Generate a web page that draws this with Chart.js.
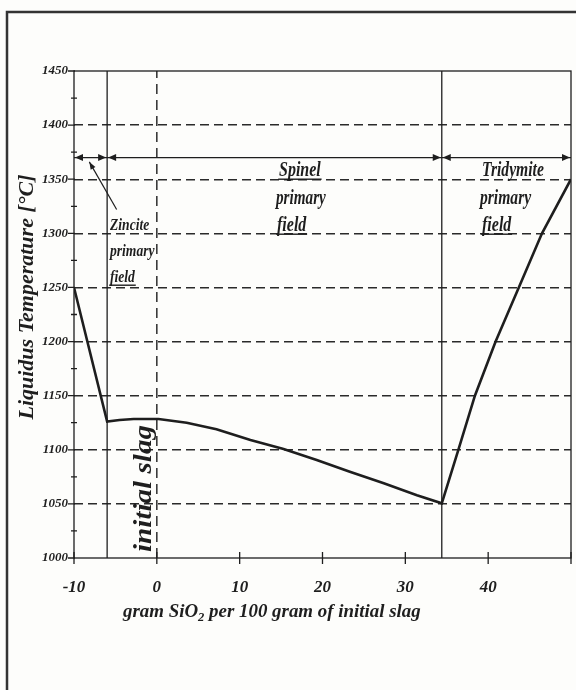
<!DOCTYPE html>
<html>
<head>
<meta charset="utf-8">
<script src="https://cdn.jsdelivr.net/npm/chart.js@4.4.1/dist/chart.umd.min.js"></script>
<style>
  html, body { margin: 0; padding: 0; background: #fdfdfb; }
  canvas { display: block; }
</style>
</head>
<body>
<canvas id="liquidus" width="576" height="690"></canvas>
<script>
// liquidus curve
const silicaAdded = [-10, -6, -4.5, -2.8, 0.2, 3.6, 7.2, 11.3, 15.3, 19.3, 23.3, 27.4, 31.4, 34.4, 36.4, 38.4, 40.9, 43.7, 46.5, 50];
const liquidusTemp = [1250, 1126, 1127.5, 1128.4, 1128.4, 1125, 1119, 1109, 1100.7, 1090.6, 1079.7, 1069, 1058, 1050.5, 1100, 1150, 1200, 1250, 1300, 1350];

// primary field boundaries and the initial slag composition
const fieldBoundaries = [-6, 34.4];
const initialSlag = 0;
const fieldEdges = [-10, -6, 34.4, 50];
const fieldArrowTemp = 1370;

// axes
const xTicks = [-10, 0, 10, 20, 30, 40, 50];
const xTickLabels = ['-10', '0', '10', '20', '30', '40', ''];
const yTicks = [1000, 1050, 1100, 1150, 1200, 1250, 1300, 1350, 1400, 1450];
const yMinorTicks = [1025, 1075, 1125, 1175, 1225, 1275, 1325, 1375, 1425];
const tMin = 1000, tMax = 1450;

const ink = '#1e1e1e';
const serif = '"Liberation Serif", "Times New Roman", serif';

function drawText(ctx, str, x, y, size, sx, opts = {}) {
  ctx.save();
  ctx.translate(x, y);
  if (opts.rotate) ctx.rotate(opts.rotate);
  ctx.scale(sx, 1);
  ctx.font = `italic bold ${size}px ${serif}`;
  ctx.textAlign = opts.align || 'left';
  ctx.textBaseline = 'alphabetic';
  ctx.fillStyle = ink;
  ctx.fillText(str, 0, 0);
  if (opts.underline) {
    const w = ctx.measureText(str).width;
    const x0 = ctx.textAlign === 'center' ? -w / 2 : 0;
    ctx.fillRect(x0 - 1, 2.5, w + 2, 1.4);
  }
  ctx.restore();
}

function arrowHead(ctx, x, y, dir) {
  ctx.beginPath();
  ctx.moveTo(x, y);
  ctx.lineTo(x - dir * 8, y - 3.5);
  ctx.lineTo(x - dir * 8, y + 3.5);
  ctx.closePath();
  ctx.fill();
}

const decorations = {
  id: 'decorations',
  afterDraw(chart) {
    const ctx = chart.ctx;
    const xs = chart.scales.x, ys = chart.scales.y;
    const a = chart.chartArea;
    ctx.save();
    ctx.strokeStyle = ink;
    ctx.fillStyle = ink;

    // plot box
    ctx.lineWidth = 1.3;
    ctx.strokeRect(a.left, a.top, a.right - a.left, a.bottom - a.top);

    // tick marks
    ctx.beginPath();
    yTicks.forEach(v => {
      const y = ys.getPixelForValue(v);
      ctx.moveTo(a.left - 6, y); ctx.lineTo(a.left + 1, y);
    });
    yMinorTicks.forEach(v => {
      const y = ys.getPixelForValue(v);
      ctx.moveTo(a.left - 3, y); ctx.lineTo(a.left + 3, y);
    });
    xTicks.forEach(v => {
      const x = xs.getPixelForValue(v);
      ctx.moveTo(x, a.bottom - 6); ctx.lineTo(x, a.bottom + 6);
    });
    ctx.stroke();

    // field arrows
    const ay = ys.getPixelForValue(fieldArrowTemp);
    ctx.lineWidth = 1.2;
    ctx.beginPath();
    ctx.moveTo(xs.getPixelForValue(fieldEdges[0]), ay);
    ctx.lineTo(xs.getPixelForValue(fieldEdges[fieldEdges.length - 1]), ay);
    ctx.stroke();
    for (let i = 0; i < fieldEdges.length - 1; i++) {
      arrowHead(ctx, xs.getPixelForValue(fieldEdges[i]) + 1, ay, -1);
      arrowHead(ctx, xs.getPixelForValue(fieldEdges[i + 1]) - 1, ay, 1);
    }

    // pointer from the Zincite label
    const p0 = { x: xs.getPixelForValue(-4.85), y: ys.getPixelForValue(1322) };
    const p1 = { x: xs.getPixelForValue(-8.15), y: ys.getPixelForValue(1366) };
    ctx.beginPath();
    ctx.moveTo(p0.x, p0.y); ctx.lineTo(p1.x, p1.y);
    ctx.stroke();
    const ang = Math.atan2(p1.y - p0.y, p1.x - p0.x);
    ctx.beginPath();
    ctx.moveTo(p1.x, p1.y);
    ctx.lineTo(p1.x - 8 * Math.cos(ang - 0.35), p1.y - 8 * Math.sin(ang - 0.35));
    ctx.lineTo(p1.x - 8 * Math.cos(ang + 0.35), p1.y - 8 * Math.sin(ang + 0.35));
    ctx.closePath();
    ctx.fill();

    // field labels
    drawText(ctx, 'Spinel', 279, 176, 20, 0.8, { underline: true });
    drawText(ctx, 'primary', 276, 204, 20, 0.76);
    drawText(ctx, 'field', 277, 231, 20, 0.8, { underline: true });
    drawText(ctx, 'Tridymite', 482, 176, 20, 0.78);
    drawText(ctx, 'primary', 480, 204, 20, 0.78);
    drawText(ctx, 'field', 482, 231, 20, 0.8, { underline: true });
    drawText(ctx, 'Zincite', 110, 230, 16, 0.85);
    drawText(ctx, 'primary', 110, 256, 16, 0.85);
    drawText(ctx, 'field', 110, 282, 16, 0.85, { underline: true });

    // initial slag marker text
    drawText(ctx, 'initial slag', 151, 552, 26, 1.12, { rotate: -Math.PI / 2 });

    // axis titles
    drawText(ctx, 'Liquidus Temperature [°C]', 33, 297, 22, 1, { rotate: -Math.PI / 2, align: 'center' });
    const tx = 123, tyb = 617;
    ctx.font = `italic bold 18px ${serif}`;
    const sx = 1.05;
    const w1 = ctx.measureText('gram SiO').width * sx;
    drawText(ctx, 'gram SiO', tx, tyb, 18, sx);
    ctx.font = `italic bold 12px ${serif}`;
    const w2 = ctx.measureText('2').width * sx;
    drawText(ctx, '2', tx + w1, tyb + 4, 12, sx);
    drawText(ctx, ' per 100 gram of initial slag', tx + w1 + w2, tyb, 18, sx);

    // outer figure frame
    ctx.strokeStyle = '#333';
    ctx.lineWidth = 2.5;
    ctx.beginPath();
    ctx.moveTo(7, 690); ctx.lineTo(7, 12); ctx.lineTo(576, 12);
    ctx.stroke();
    ctx.restore();
  }
};

const vLine = (x, dash, width) => ({
  data: [{ x: x, y: tMin }, { x: x, y: tMax }],
  borderColor: ink,
  borderWidth: width,
  borderDash: dash,
  pointRadius: 0
});

new Chart(document.getElementById('liquidus'), {
  type: 'line',
  data: {
    datasets: [
      {
        data: silicaAdded.map((x, i) => ({ x: x, y: liquidusTemp[i] })),
        borderColor: ink,
        borderWidth: 2.6,
        pointRadius: 0,
        tension: 0
      },
      ...fieldBoundaries.map(b => vLine(b, [], 1.3)),
      vLine(initialSlag, [10, 6], 1.4)
    ]
  },
  options: {
    responsive: false,
    animation: false,
    layout: { padding: { left: 10, right: 5, top: 71, bottom: 0 } },
    plugins: { legend: { display: false }, tooltip: { enabled: false } },
    scales: {
      x: {
        type: 'linear',
        min: -10,
        max: 50,
        afterBuildTicks: s => { s.ticks = xTicks.map(v => ({ value: v })); },
        afterFit: s => { s.height = 132; s.paddingLeft = 0; s.paddingRight = 0; },
        ticks: {
          callback: v => xTickLabels[xTicks.indexOf(v)],
          color: ink,
          padding: 11,
          maxRotation: 0,
          autoSkip: false,
          font: { family: serif, size: 17, style: 'italic', weight: 'bold' }
        },
        grid: { display: false },
        border: { display: false }
      },
      y: {
        type: 'linear',
        min: tMin,
        max: tMax,
        afterBuildTicks: s => { s.ticks = yTicks.map(v => ({ value: v })); },
        afterFit: s => { s.width = 64; s.paddingTop = 0; s.paddingBottom = 0; },
        ticks: {
          callback: v => String(v),
          color: ink,
          padding: 6,
          font: { family: serif, size: 13, style: 'italic', weight: 'bold' }
        },
        grid: {
          color: c => (c.tick && c.tick.value > tMin && c.tick.value < tMax) ? '#2a2a2a' : 'rgba(0,0,0,0)',
          lineWidth: 1.4,
          drawTicks: false
        },
        border: { display: false, dash: [9, 5] }
      }
    }
  },
  plugins: [decorations]
});
</script>
</body>
</html>
